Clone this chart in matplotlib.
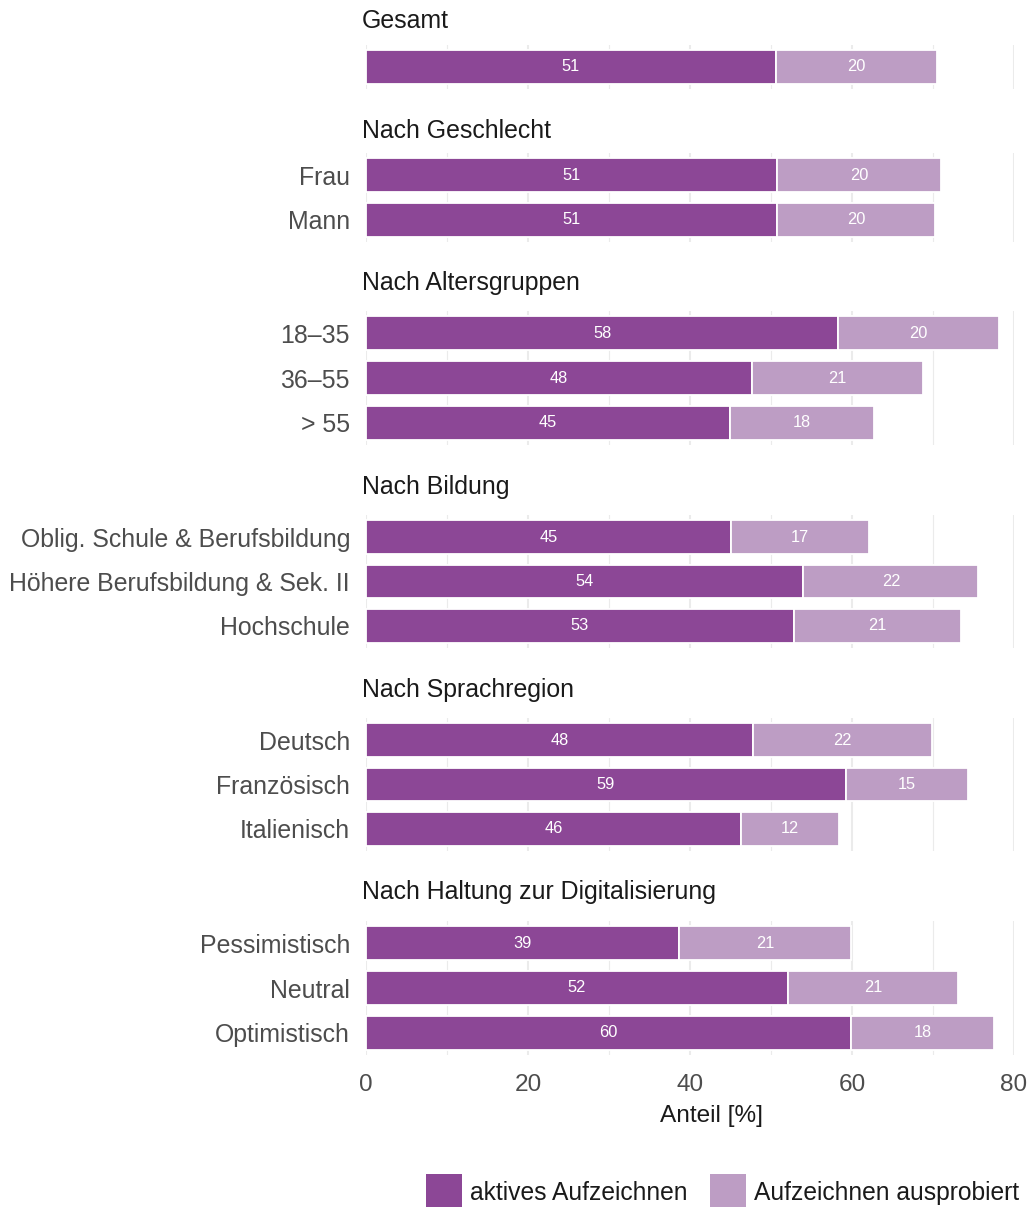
import matplotlib
matplotlib.use("Agg")
import matplotlib.pyplot as plt
from matplotlib.patches import Rectangle

plt.rcParams['font.family'] = ['Liberation Sans', 'DejaVu Sans']

# Daten
panels = ["Gesamt", "Nach Geschlecht", "Nach Altersgruppen", "Nach Bildung",
          "Nach Sprachregion", "Nach Haltung zur Digitalisierung"]
labels = [
    [""],
    ["Frau", "Mann"],
    ["18–35", "36–55", "> 55"],
    ["Oblig. Schule & Berufsbildung", "Höhere Berufsbildung & Sek. II", "Hochschule"],
    ["Deutsch", "Französisch", "Italienisch"],
    ["Pessimistisch", "Neutral", "Optimistisch"],
]
aktiv = [
    [50.6],
    [50.8, 50.7],
    [58.3, 47.6, 44.9],
    [45.0, 54.0, 52.8],
    [47.8, 59.2, 46.3],
    [38.6, 52.1, 59.9],
]
probiert = [
    [19.9],
    [20.2, 19.6],
    [19.8, 21.2, 17.8],
    [17.1, 21.6, 20.6],
    [22.1, 15.1, 12.1],
    [21.3, 21.0, 17.6],
]
series = ["aktives Aufzeichnen", "Aufzeichnen ausprobiert"]
x_ticks = [0, 20, 40, 60, 80]

c_dark = '#8c4796'
c_light = '#bd9dc4'
c_grid = '#ebebeb'
c_text = '#4d4d4d'

W, H = 1033, 1207
fig = plt.figure(figsize=(W / 100, H / 100), dpi=100)

# Pixelpositionen der Panels (oben, unten) und Titel-Basislinien
left_px, right_px = 366, 1014
panel_px = [(44.5, 89), (153, 242), (311, 445), (515, 648), (718, 851), (921, 1055)]
title_base = [28, 138, 290, 494, 697, 899]

def fx(p):
    return p / W

def fy(p):
    return 1 - p / H

fs = 17.9

for i, name in enumerate(panels):
    top, bot = panel_px[i]
    ax = fig.add_axes([fx(left_px), fy(bot), fx(right_px) - fx(left_px), (bot - top) / H])
    n = len(labels[i])
    ys = list(range(n))
    ax.barh(ys, aktiv[i], height=0.76, color=c_dark, edgecolor='white', linewidth=1.3, zorder=2)
    ax.barh(ys, probiert[i], left=aktiv[i], height=0.76, color=c_light,
            edgecolor='white', linewidth=1.3, zorder=2)
    for y, a, p in zip(ys, aktiv[i], probiert[i]):
        ax.text(a / 2, y, f"{a:.0f}", ha='center', va='center', color='white',
                fontsize=11.8, zorder=3)
        ax.text(a + p / 2, y, f"{p:.0f}", ha='center', va='center', color='white',
                fontsize=11.8, zorder=3)

    ax.set_xlim(0, 80)
    ax.set_ylim(n - 0.5, -0.5)
    ax.set_xticks(x_ticks)
    ax.set_xticks([10, 30, 50, 70], minor=True)
    ax.grid(axis='x', which='major', color=c_grid, linewidth=1.5, zorder=0)
    ax.grid(axis='x', which='minor', color=c_grid, linewidth=0.8, zorder=0)
    ax.set_axisbelow(True)
    for s in ax.spines.values():
        s.set_visible(False)
    ax.set_yticks(ys)
    ax.set_yticklabels(labels[i], fontsize=fs, color=c_text)
    ax.tick_params(axis='y', length=0, pad=11.5)
    ax.tick_params(axis='x', which='both', length=0)
    if i < len(panels) - 1:
        ax.tick_params(axis='x', labelbottom=False)
    else:
        ax.tick_params(axis='x', labelsize=17.6, labelcolor=c_text, pad=14)

    fig.text(fx(362), fy(title_base[i]), name, ha='left', va='baseline',
             fontsize=fs, color='#1a1a1a')

fig.text(fx(712), fy(1116), "Anteil [%]", ha='center', va='center', fontsize=17.6, color='#1a1a1a')

# Legende
key = 36
legend_items = [(426, c_dark, series[0]), (710, c_light, series[1])]
for kx, col, lab in legend_items:
    fig.patches.append(Rectangle((fx(kx), fy(1174 + key)), key / W, key / H,
                                 transform=fig.transFigure, facecolor=col,
                                 edgecolor='none', figure=fig))
    fig.text(fx(kx + key + 8), fy(1193), lab, ha='left', va='center',
             fontsize=17.7, color='#1a1a1a')

fig.savefig('out.png', dpi=100)
